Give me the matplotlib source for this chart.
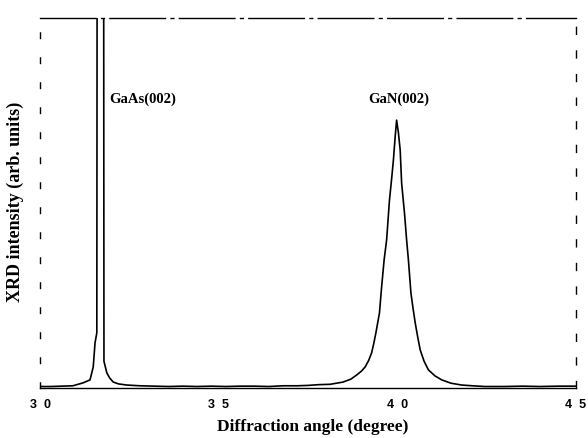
import numpy as np
import matplotlib
matplotlib.use("Agg")
import matplotlib.pyplot as plt

# values (intensity normalised to the frame height)
angle = [30.00, 30.30, 30.60, 30.92, 31.21, 31.40, 31.49, 31.54, 31.59, 31.60,
         31.66, 31.72, 31.78, 31.79, 31.87, 31.95, 32.05, 32.20, 32.43, 32.80,
         33.20, 33.60, 34.00, 34.40, 34.80, 35.20, 35.60, 36.00, 36.40, 36.80,
         37.20, 37.50, 37.80, 38.12, 38.48, 38.70, 38.86, 39.00, 39.10, 39.20,
         39.28, 39.34, 39.40, 39.50, 39.56, 39.63, 39.70, 39.78, 39.84, 39.89,
         39.94, 39.98, 40.03, 40.08, 40.12, 40.20, 40.26, 40.31, 40.38, 40.44,
         40.50, 40.57, 40.64, 40.75, 40.87, 41.05, 41.24, 41.50, 41.80, 42.10,
         42.45, 43.00, 43.50, 44.00, 44.50, 45.00]
intensity = [0.004, 0.004, 0.005, 0.006, 0.014, 0.022, 0.057, 0.122, 0.149, 1.300,
             1.600, 1.600, 1.400, 0.072, 0.041, 0.027, 0.016, 0.011, 0.008, 0.006,
             0.005, 0.004, 0.005, 0.004, 0.005, 0.004, 0.005, 0.005, 0.004, 0.006,
             0.006, 0.007, 0.009, 0.010, 0.016, 0.024, 0.035, 0.046, 0.057, 0.075,
             0.095, 0.120, 0.149, 0.203, 0.273, 0.346, 0.400, 0.508, 0.565, 0.616,
             0.680, 0.724, 0.690, 0.643, 0.554, 0.473, 0.400, 0.346, 0.257, 0.215,
             0.176, 0.138, 0.103, 0.072, 0.049, 0.033, 0.022, 0.013, 0.008, 0.006,
             0.004, 0.004, 0.005, 0.004, 0.005, 0.005]

xticks = [30, 35, 40, 45]
xtick_labels = ['3  0', '3  5', '4  0', '4  5']
peak_labels = ['GaAs(002)', 'GaN(002)']
peak_pos = [(31.95, 0.78), (40.05, 0.78)]

serif = ['Liberation Serif', 'DejaVu Serif']
sans = ['Liberation Sans', 'DejaVu Sans']

fig = plt.figure(figsize=(5.88, 4.38), dpi=100)
ax = fig.add_axes([40 / 588, 50 / 438, 536 / 588, 370 / 438])

ax.plot(angle, intensity, color='black', lw=1.2)
ax.set_xlim(30, 45)
ax.set_ylim(0, 1)

# scanned frame looks broken, mimic with dashes
ax.spines['top'].set_linestyle((0, (40, 4, 2, 4)))
ax.spines['left'].set_linestyle((0, (4, 14)))
ax.spines['right'].set_linestyle((0, (5, 12)))
for s in ax.spines.values():
    s.set_linewidth(1.0)

ax.set_xticks(xticks)
ax.set_xticklabels(xtick_labels, fontfamily=sans, fontweight='bold', fontsize=9)
ax.set_yticks([])
ax.tick_params(axis='x', length=0, pad=8)

for txt, (x, y) in zip(peak_labels, peak_pos):
    ha = 'left' if txt.startswith('GaAs') else 'center'
    ax.text(x, y, txt, ha=ha, va='center', fontfamily=serif,
            fontweight='bold', fontsize=10.5)

fig.text(313 / 588, 1 - 427 / 438, 'Diffraction angle (degree)', ha='center',
         va='center', fontfamily=serif, fontweight='bold', fontsize=12.5)
fig.text(15 / 588, 1 - 202 / 438, 'XRD intensity (arb. units)', ha='center',
         va='center', rotation=90, fontfamily=serif, fontweight='bold', fontsize=13)

fig.savefig('out.png', dpi=100)
